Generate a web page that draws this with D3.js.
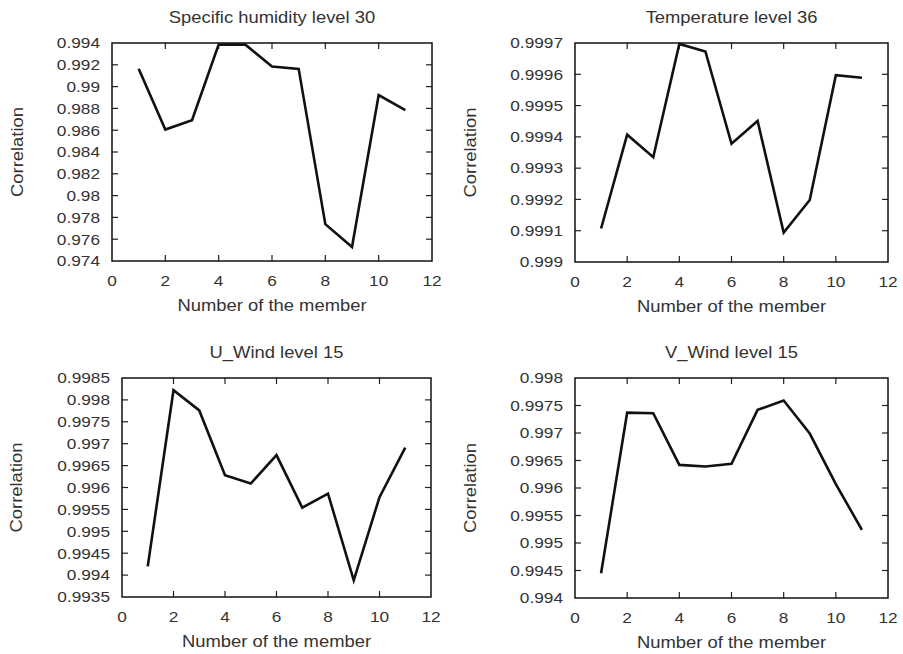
<!DOCTYPE html>
<html>
<head>
<meta charset="utf-8">
<script src="https://cdn.jsdelivr.net/npm/d3@7/dist/d3.min.js"></script>
<style>
  html, body { margin: 0; padding: 0; background: #fff; }
  svg { display: block; }
  text { font-family: "Liberation Sans", Arial, Helvetica, sans-serif; fill: #333; }
</style>
</head>
<body>
<svg id="chart" width="903" height="654"></svg>
<script>
// Ensemble members 1..11
const members = [1, 2, 3, 4, 5, 6, 7, 8, 9, 10, 11];
const xTicks = [0, 2, 4, 6, 8, 10, 12];

// Correlation per member, one series per variable
const humidity30 = [0.99163, 0.98606, 0.98692, 0.99385, 0.99385, 0.99185, 0.99163, 0.97738, 0.97529, 0.98923, 0.98785];
const temperature36 = [0.999107, 0.999407, 0.999335, 0.999697, 0.999673, 0.999378, 0.999451, 0.999094, 0.999198, 0.999597, 0.999589];
const uWind15 = [0.99420, 0.99822, 0.99776, 0.99628, 0.99609, 0.99674, 0.99554, 0.99586, 0.99388, 0.99578, 0.99691];
const vWind15 = [0.99445, 0.99737, 0.99736, 0.99642, 0.99639, 0.99644, 0.99742, 0.99759, 0.99699, 0.99607, 0.99524];

// Y tick values per panel
const humidityTicks = [0.974, 0.976, 0.978, 0.98, 0.982, 0.984, 0.986, 0.988, 0.99, 0.992, 0.994];
const temperatureTicks = [0.999, 0.9991, 0.9992, 0.9993, 0.9994, 0.9995, 0.9996, 0.9997];
const uWindTicks = [0.9935, 0.994, 0.9945, 0.995, 0.9955, 0.996, 0.9965, 0.997, 0.9975, 0.998, 0.9985];
const vWindTicks = [0.994, 0.9945, 0.995, 0.9955, 0.996, 0.9965, 0.997, 0.9975, 0.998];

const titles = ["Specific humidity level 30", "Temperature level 36", "U_Wind level 15", "V_Wind level 15"];

// Panel frames (plot area boxes) and y-title baselines
const panels = [
  { title: titles[0], values: humidity30, ticks: humidityTicks, left: 112, right: 432, top: 43, bottom: 261, ylabX: 23 },
  { title: titles[1], values: temperature36, ticks: temperatureTicks, left: 575, right: 888, top: 43, bottom: 262, ylabX: 476 },
  { title: titles[2], values: uWind15, ticks: uWindTicks, left: 122, right: 431, top: 378, bottom: 597, ylabX: 22 },
  { title: titles[3], values: vWind15, ticks: vWindTicks, left: 575, right: 888, top: 378, bottom: 598, ylabX: 476 }
];

const svg = d3.select("#chart");
const SX = 1.15; // horizontal widening of the glyphs
const fmt = v => String(+v.toFixed(5));

function label(g, x, y, txt, size, anchor, rotate) {
  g.append("text")
    .attr("transform", `translate(${x},${y})` + (rotate ? ` rotate(${rotate})` : "") + ` scale(${SX},1)`)
    .attr("text-anchor", anchor)
    .style("font-size", size + "px")
    .text(txt);
}

panels.forEach(p => {
  const g = svg.append("g");
  const x = d3.scaleLinear().domain([0, 12]).range([p.left, p.right]);
  const y = d3.scaleLinear().domain([p.ticks[0], p.ticks[p.ticks.length - 1]]).range([p.bottom, p.top]);
  const tl = 6;

  // inward ticks on all four sides
  const ticks = g.append("g").attr("stroke", "#222").attr("stroke-width", 1.2);
  xTicks.slice(1, -1).forEach(t => {
    ticks.append("line").attr("x1", x(t)).attr("x2", x(t)).attr("y1", p.bottom).attr("y2", p.bottom - tl);
    ticks.append("line").attr("x1", x(t)).attr("x2", x(t)).attr("y1", p.top).attr("y2", p.top + tl);
  });
  p.ticks.slice(1, -1).forEach(t => {
    ticks.append("line").attr("x1", p.left).attr("x2", p.left + tl).attr("y1", y(t)).attr("y2", y(t));
    ticks.append("line").attr("x1", p.right).attr("x2", p.right - tl).attr("y1", y(t)).attr("y2", y(t));
  });

  // tick labels
  xTicks.forEach(t => label(g, x(t), p.bottom + 25, String(t), 15, "middle"));
  p.ticks.forEach(t => label(g, p.left - 12, y(t) + 5.3, fmt(t), 15, "end"));

  // data line
  const line = d3.line().x((d, i) => x(members[i])).y(d => y(d));
  g.append("path")
    .datum(p.values)
    .attr("d", line)
    .attr("fill", "none")
    .attr("stroke", "#111")
    .attr("stroke-width", 2.6)
    .attr("stroke-linejoin", "miter");

  // frame
  g.append("rect")
    .attr("x", p.left).attr("y", p.top)
    .attr("width", p.right - p.left).attr("height", p.bottom - p.top)
    .attr("fill", "none").attr("stroke", "#111").attr("stroke-width", 1.5);

  // titles
  label(g, (p.left + p.right) / 2, p.top - 20, p.title, 16, "middle");
  label(g, (p.left + p.right) / 2, p.bottom + 50, "Number of the member", 16, "middle");
  label(g, p.ylabX, (p.top + p.bottom) / 2, "Correlation", 16, "middle", -90);
});
</script>
</body>
</html>
